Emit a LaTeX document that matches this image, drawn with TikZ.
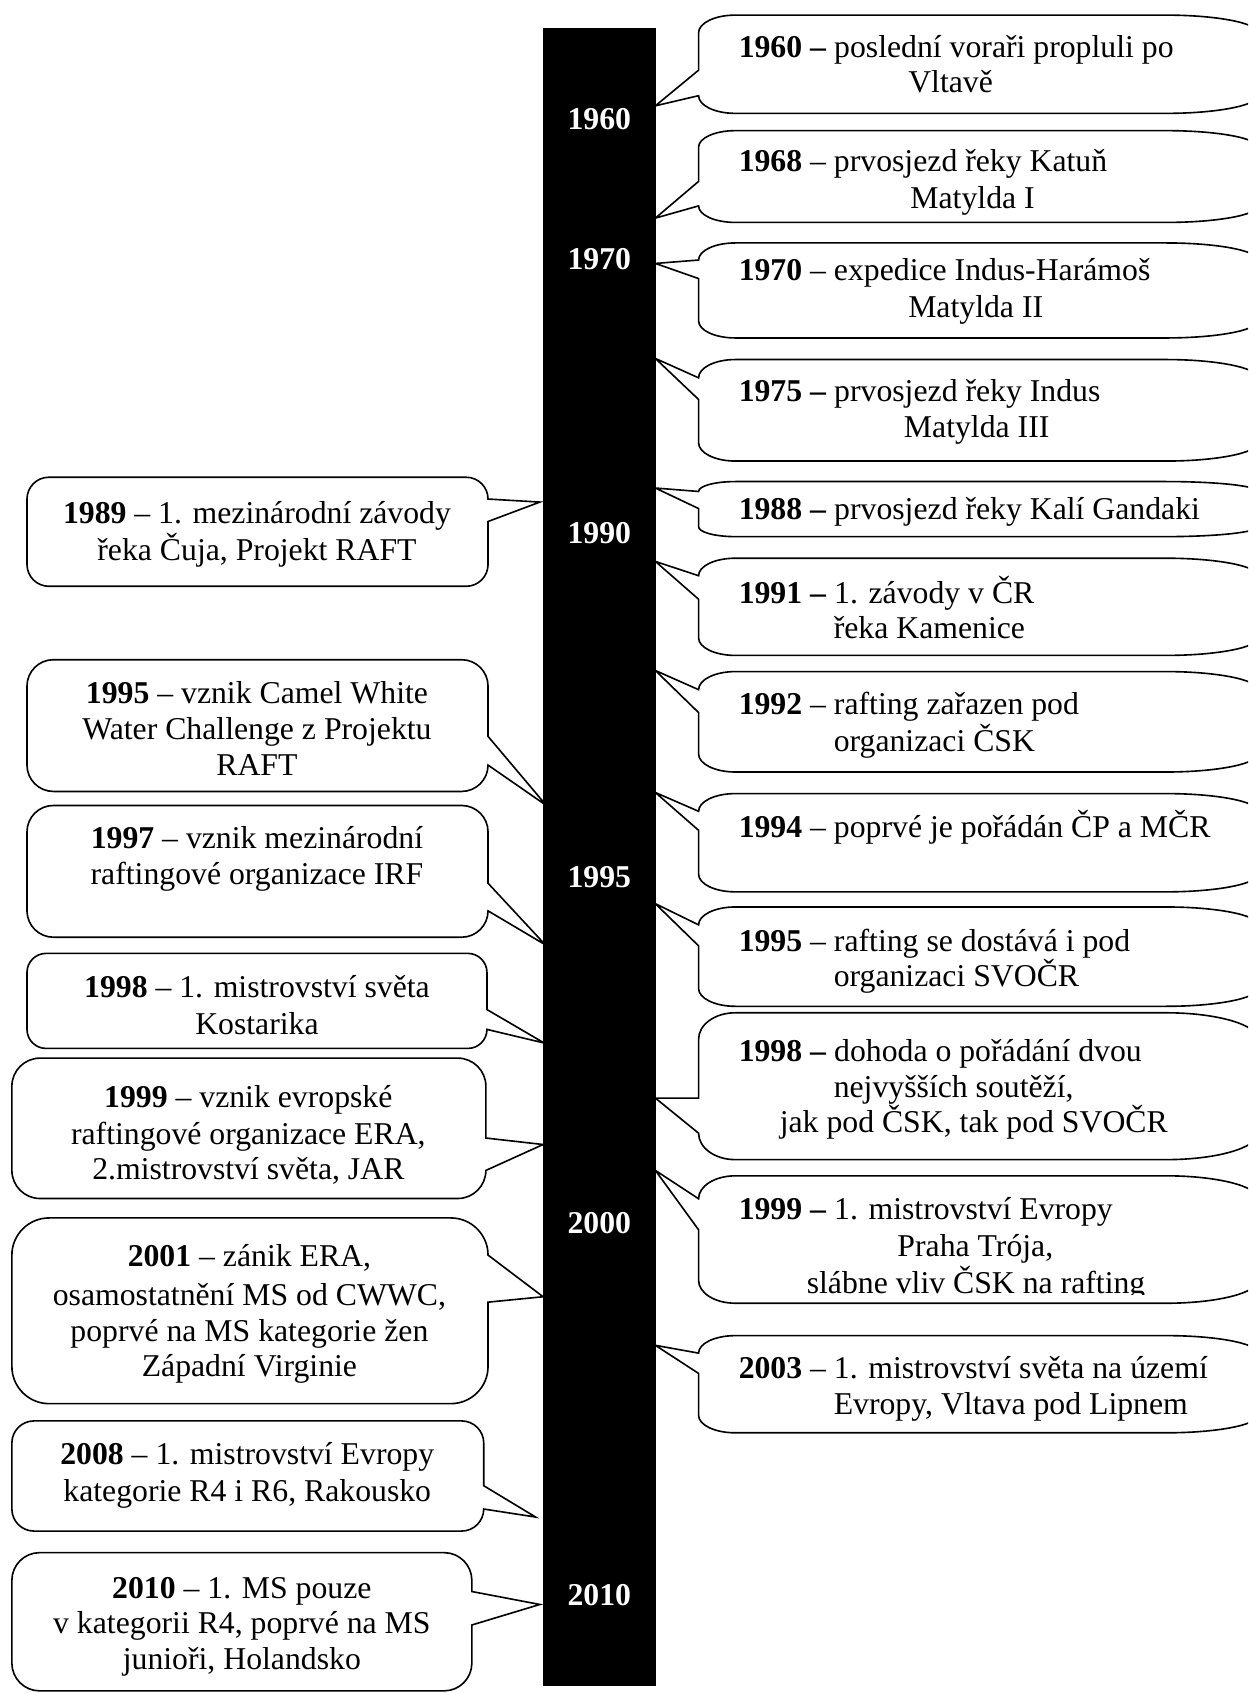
\documentclass[tikz,border=0pt]{standalone}
\usepackage{fontspec}
\setmainfont{Liberation Serif}
\tikzset{
  cbox/.style={draw=black,fill=white,line width=1.5pt,line join=miter},
  txt/.style={inner sep=0pt,anchor=base,font=\fontsize{29.4}{34}\selectfont},
  txtw/.style={txt,anchor=base west},
  yr/.style={inner sep=0pt,anchor=center,text=white,font=\fontsize{29.4}{34}\selectfont\bfseries},
}
% right-side callout, wedge on its left edge
\newcommand{\rcall}[9]{%
  \pgfmathsetmacro\cRy{0.18*(#4-#2)}%
  \pgfmathsetmacro\cBa{max(#7,#2+\cRy)}%
  \pgfmathsetmacro\cBb{min(#8,#4-\cRy)}%
  \coordinate (#9) at (#5,#6);
  \draw[cbox] (#1,\cBa) -- (#9) -- (#1,\cBb) -- (#1,#4-\cRy)
    .. controls (#1,#4-0.45*\cRy) and (#1+15,#4) .. (#1+34,#4)
    -- (#3-85,#4) .. controls (#3-38,#4) and (#3,#4-0.45*\cRy) .. (#3,#4-\cRy)
    -- (#3,#2+\cRy) .. controls (#3,#2+0.45*\cRy) and (#3-38,#2) .. (#3-85,#2)
    -- (#1+34,#2) .. controls (#1+15,#2) and (#1,#2+0.45*\cRy) .. (#1,#2+\cRy)
    -- cycle;
}
% left-side callout, wedge on its right edge
\newcommand{\lcall}[9]{%
  \pgfmathsetmacro\cR{0.2*(#4-#2)}%
  \pgfmathsetmacro\cBa{max(#7,#2+\cR)}%
  \pgfmathsetmacro\cBb{min(#8,#4-\cR)}%
  \coordinate (#9) at (#5,#6);
  \draw[cbox] (#3,\cBa) -- (#9) -- (#3,\cBb) -- (#3,#4-\cR)
    .. controls (#3,#4-0.45*\cR) and (#3-0.45*\cR,#4) .. (#3-\cR,#4)
    -- (#1+\cR,#4) .. controls (#1+0.45*\cR,#4) and (#1,#4-0.45*\cR) .. (#1,#4-\cR)
    -- (#1,#2+\cR) .. controls (#1,#2+0.45*\cR) and (#1+0.45*\cR,#2) .. (#1+\cR,#2)
    -- (#3-\cR,#2) .. controls (#3-0.45*\cR,#2) and (#3,#2+0.45*\cR) .. (#3,#2+\cR)
    -- cycle;
}
\begin{document}
\begin{tikzpicture}[x=1pt,y=-1pt]
\useasboundingbox (0,0) rectangle (1156,1568);
\begin{scope}
\clip (0,0) rectangle (1156,1568);
\fill[white] (0,0) rectangle (1156,1568);

% timeline bar
\node[fill=black,inner sep=0pt,minimum width=104pt,minimum height=1535pt,anchor=north west] (bar) at (503,26) {};
\node[yr] (y1960) at (555,110) {1960};
\node[yr] (y1970) at (555,240) {1970};
\node[yr] (y1990) at (555,494) {1990};
\node[yr] (y1995) at (555,812) {1995};
\node[yr] (y2000) at (555,1133) {2000};
\node[yr] (y2010) at (555,1477) {2010};

% right callouts
\rcall{647}{14}{1165}{105}{607}{98}{65}{91}{p1}
\node[txtw] (r1a) at (684,53) {\textbf{1960 –} poslední voraři propluli po};
\node[txtw] (r1b) at (841,86) {Vltavě};

\rcall{647}{121}{1165}{206}{607}{202}{168}{194}{p2}
\node[txtw] (r2a) at (684,159) {\textbf{1968} – prvosjezd řeky Katuň};
\node[txtw] (r2b) at (843,193) {Matylda I};

\rcall{647}{225}{1165}{313}{607}{244}{230}{258}{p3}
\node[txtw] (r3a) at (684,260) {\textbf{1970} – expedice Indus-Harámoš};
\node[txtw] (r3b) at (841,294) {Matylda II};

\rcall{647}{333}{1165}{427}{607}{332}{346}{370}{p4}
\node[txtw] (r4a) at (684,372) {\textbf{1975 –} prvosjezd řeky Indus};
\node[txtw] (r4b) at (837,405) {Matylda III};

\rcall{647}{446}{1165}{497}{607}{452}{451}{471}{p5}
\node[txtw] (r5a) at (684,481) {\textbf{1988 –} prvosjezd řeky Kalí Gandaki};

\rcall{647}{517}{1165}{607}{607}{520}{531}{555}{p6}
\node[txtw] (r6a) at (684,559) {\textbf{1991 –} 1. závody v ČR};
\node[txtw] (r6b) at (772,591) {řeka Kamenice};

\rcall{647}{622}{1165}{715}{607}{621}{637}{660}{p7}
\node[txtw] (r7a) at (684,662) {\textbf{1992} – rafting zařazen pod};
\node[txtw] (r7b) at (772,696) {organizaci ČSK};

\rcall{647}{735}{1165}{826}{607}{734}{748}{769}{p8}
\node[txtw] (r8a) at (684,776) {\textbf{1994} – poprvé je pořádán ČP a MČR};

\rcall{647}{840}{1165}{932}{607}{837}{855}{876}{p9}
\node[txtw] (r9a) at (684,881) {\textbf{1995} – rafting se dostává i pod};
\node[txtw] (r9b) at (772,914) {organizaci SVOČR};

\rcall{647}{938}{1165}{1074}{607}{1017}{1017}{1051}{p10}
\node[txtw] (r10a) at (684,983) {\textbf{1998 –} dohoda o pořádání dvou};
\node[txtw] (r10b) at (772,1016) {nejvyšších soutěží,};
\node[txtw] (r10c) at (722,1049) {jak pod ČSK, tak pod SVOČR};

\rcall{647}{1089}{1165}{1207}{607}{1084}{1108}{1139}{p11}
\node[txtw] (r11a) at (684,1129) {\textbf{1999 –} 1. mistrovství Evropy};
\node[txtw] (r11b) at (831,1164) {Praha Trója,};
\begin{scope}
\clip (660,1170) rectangle (1150,1199);
\node[txtw] (r11c) at (747,1198) {slábne vliv ČSK na rafting};
\end{scope}

\rcall{647}{1237}{1165}{1327}{607}{1246}{1249}{1272}{p12}
\node[txtw] (r12a) at (684,1277) {\textbf{2003} – 1. mistrovství světa na území};
\node[txtw] (r12b) at (772,1310) {Evropy, Vltava pod Lipnem};

% left callouts
\lcall{25}{442}{452}{543}{500}{465}{458}{483}{q1}
\node[txt] (l1a) at (238,485) {\textbf{1989} – 1. mezinárodní závody};
\node[txt] (l1b) at (238,519) {řeka Čuja, Projekt RAFT};

\lcall{25}{611}{452}{733}{506}{746}{682}{715}{q2}
\node[txt] (l2a) at (238,652) {\textbf{1995} – vznik Camel White};
\node[txt] (l2b) at (238,685) {Water Challenge z Projektu};
\node[txt] (l2c) at (238,718) {RAFT};

\lcall{25}{746}{452}{868}{505}{875}{818}{847}{q3}
\node[txt] (l3a) at (238,786) {\textbf{1997} – vznik mezinárodní};
\node[txt] (l3b) at (238,819) {raftingové organizace IRF};

\lcall{25}{883}{451}{971}{504}{966}{935}{957}{q4}
\node[txt] (l4a) at (238,924) {\textbf{1998} – 1. mistrovství světa};
\node[txt] (l4b) at (238,958) {Kostarika};

\lcall{11}{980}{450}{1110}{503}{1060}{1054}{1084}{q5}
\node[txt] (l5a) at (230,1026) {\textbf{1999} – vznik evropské};
\node[txt] (l5b) at (230,1060) {raftingové organizace ERA,};
\node[txt] (l5c) at (230,1092) {2.mistrovství světa, JAR};

\lcall{11}{1128}{452}{1300}{503}{1201}{1153}{1206}{q6}
\node[txt] (l6a) at (231,1173) {\textbf{2001} – zánik ERA,};
\node[txt] (l6b) at (231,1209) {osamostatnění MS od CWWC,};
\node[txt] (l6c) at (231,1242) {poprvé na MS kategorie žen};
\node[txt] (l6d) at (231,1275) {Západní Virginie};

\lcall{11}{1316}{448}{1418}{496}{1405}{1376}{1403}{q7}
\node[txt] (l7a) at (229,1356) {\textbf{2008} – 1. mistrovství Evropy};
\node[txt] (l7b) at (229,1391) {kategorie R4 i R6, Rakousko};

\lcall{11}{1438}{437}{1566}{500}{1486}{1474}{1505}{q8}
\node[txt] (l8a) at (224,1480) {\textbf{2010} – 1. MS pouze};
\node[txt] (l8b) at (224,1513) {v kategorii R4, poprvé na MS};
\node[txt] (l8c) at (224,1546) {junioři, Holandsko};
\end{scope}
\end{tikzpicture}
\end{document}
